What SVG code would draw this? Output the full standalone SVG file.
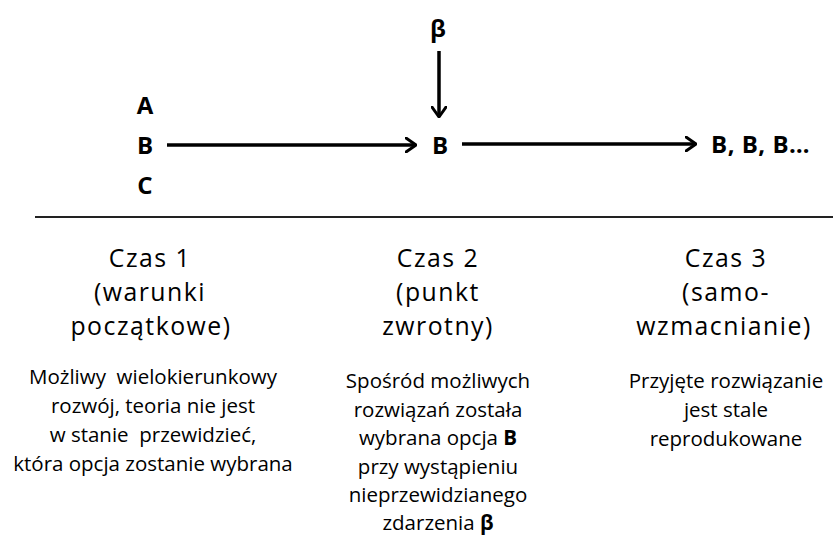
<svg xmlns="http://www.w3.org/2000/svg" width="833" height="536" viewBox="0 0 833 536">
<defs>
<marker id="ah" viewBox="0 0 12 16" refX="11" refY="8" markerWidth="12" markerHeight="16" markerUnits="userSpaceOnUse" orient="auto">
<path d="M1,1 L11,8 L1,15" fill="none" stroke="#000" stroke-width="3" stroke-linecap="round" stroke-linejoin="round"/>
</marker>
<style>
text{font-family:"Open Sans",Lato,"Liberation Sans",sans-serif;fill:#000;text-anchor:middle;white-space:pre}
.lbl{font-size:24px;font-weight:bold}
.ttl{font-size:24.8px;letter-spacing:1.5px}
.dsc{font-size:20.5px}
.conn{stroke:#000;stroke-width:3.5;fill:none;marker-end:url(#ah)}
</style>
</defs>
<rect width="833" height="536" fill="#fff"/>
<g id="connectors">
<line class="conn" x1="167" y1="145" x2="416" y2="145"/>
<line class="conn" x1="439" y1="51" x2="439" y2="117"/>
<line class="conn" x1="462" y1="144" x2="696" y2="144"/>
<line x1="35" y1="217" x2="833" y2="217" stroke="#222" stroke-width="2"/>
</g>
<g id="options">
<text class="lbl" x="145" y="114">A</text>
<text class="lbl" x="145" y="154">B</text>
<text class="lbl" x="145" y="194">C</text>
</g>
<g id="beta"><text class="lbl" x="438" y="37">β</text></g>
<g id="choice"><text class="lbl" x="440" y="154">B</text></g>
<g id="repeat"><text class="lbl" x="711" y="153" style="text-anchor:start;letter-spacing:0.5px">B, B, B…</text></g>
<g id="czas1">
<text class="ttl" x="150" y="267">Czas 1</text>
<text class="ttl" x="150" y="301">(warunki</text>
<text class="ttl" x="151" y="335">początkowe)</text>
<text class="dsc" x="153" y="384">Możliwy  wielokierunkowy</text>
<text class="dsc" x="153" y="413">rozwój, teoria nie jest</text>
<text class="dsc" x="153" y="442">w stanie  przewidzieć,</text>
<text class="dsc" x="153" y="471">która opcja zostanie wybrana</text>
</g>
<g id="czas2">
<text class="ttl" x="438" y="267">Czas 2</text>
<text class="ttl" x="438" y="301">(punkt</text>
<text class="ttl" x="438" y="335">zwrotny)</text>
<text class="dsc" x="438" y="388">Spośród możliwych</text>
<text class="dsc" x="438" y="416.5">rozwiązań została</text>
<text class="dsc" x="438" y="445">wybrana opcja <tspan font-weight="bold">B</tspan></text>
<text class="dsc" x="438" y="473.5">przy wystąpieniu</text>
<text class="dsc" x="438" y="502">nieprzewidzianego</text>
<text class="dsc" x="438" y="530">zdarzenia <tspan font-weight="bold">β</tspan></text>
</g>
<g id="czas3">
<text class="ttl" x="726" y="267">Czas 3</text>
<text class="ttl" x="726" y="301">(samo-</text>
<text class="ttl" x="724" y="335">wzmacnianie)</text>
<text class="dsc" x="726" y="388">Przyjęte rozwiązanie</text>
<text class="dsc" x="726" y="417">jest stale</text>
<text class="dsc" x="726" y="446">reprodukowane</text>
</g>
</svg>
